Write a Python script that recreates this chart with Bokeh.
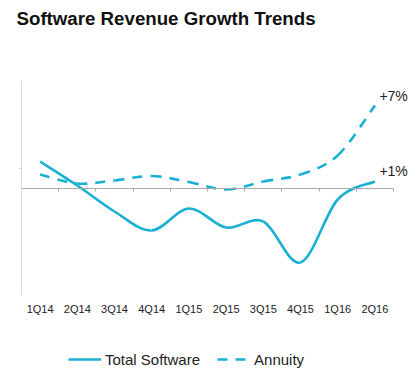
from bokeh.plotting import figure
from bokeh.models import (Range1d, LinearAxis, FixedTicker,
                          Legend, LegendItem, Label, CustomJSTickFormatter)
from bokeh.embed import file_html
from bokeh.resources import INLINE

# ---- data (arbitrary growth units, 0 = flat) ----
quarters = ["1Q14", "2Q14", "3Q14", "4Q14", "1Q15", "2Q15", "3Q15", "4Q15", "1Q16", "2Q16"]
total_software = [27, 3, -23, -42, -20, -39, -33, -74, -11, 7]
annuity = [14, 5, 8, 12.5, 6.5, -1, 7, 14, 33, 83]
end_labels = ["+1%", "+7%"]
y_ticks = [20]
axis_bottom, axis_top = -107, 108
title_text = "Software Revenue Growth Trends"

COLOR = "#1ab0d4"
FONT = "Liberation Sans"
TEXT = "#222222"

W, H = 420, 374
n = len(quarters)
xs = [i + 0.5 for i in range(n)]

# layout (pixels): chart area starts at x=21, one quarter = 37.2 px, zero line at y=188, 1 unit = 1 px
X0, QW, Y0 = 21, 37.2, 188


def smooth_segments(ys):
    """Bezier control points (Catmull-Rom style) through the data points."""
    m = len(ys)
    pts = list(zip(xs, ys))
    seg = dict(x0=[], y0=[], x1=[], y1=[], cx0=[], cy0=[], cx1=[], cy1=[])
    for i in range(m - 1):
        p0 = pts[max(i - 1, 0)]
        p1 = pts[i]
        p2 = pts[i + 1]
        p3 = pts[min(i + 2, m - 1)]
        seg["x0"].append(p1[0]); seg["y0"].append(p1[1])
        seg["x1"].append(p2[0]); seg["y1"].append(p2[1])
        seg["cx0"].append(p1[0] + (p2[0] - p0[0]) / 6)
        seg["cy0"].append(p1[1] + (p2[1] - p0[1]) / 6)
        seg["cx1"].append(p2[0] - (p3[0] - p1[0]) / 6)
        seg["cy1"].append(p2[1] - (p3[1] - p1[1]) / 6)
    return seg


p = figure(width=W, height=H, title=None,
           x_range=Range1d(-X0 / QW, (W - X0) / QW), y_range=Range1d(Y0 - H, Y0),
           output_backend="svg", toolbar_location=None,
           x_axis_location=None, y_axis_location=None,
           min_border_left=0, min_border_right=0, min_border_top=0, min_border_bottom=0)
p.outline_line_color = None
p.xgrid.visible = False
p.ygrid.visible = False

# title
p.add_layout(Label(x=16, y=H - 18, x_units="screen", y_units="screen", text=title_text,
                   text_baseline="alphabetic", text_font=FONT, text_font_style="bold",
                   text_font_size="18.7px", text_color="#111111"))

# left axis (light line, one small tick, no labels)
yax = LinearAxis(fixed_location=0, ticker=FixedTicker(ticks=y_ticks), bounds=(axis_bottom, axis_top),
                 formatter=CustomJSTickFormatter(code="return ''"),
                 axis_line_color="#dcdcdc", major_tick_line_color="#c8c8c8",
                 major_tick_out=2, major_tick_in=0, minor_tick_line_color=None,
                 major_label_standoff=0)
p.add_layout(yax, "left")

# zero line with boundary ticks
zax = LinearAxis(fixed_location=0, bounds=(0, n),
                 ticker=FixedTicker(ticks=list(range(n + 1))),
                 formatter=CustomJSTickFormatter(code="return ''"),
                 axis_line_color="#a9a9a9", major_tick_line_color="#a9a9a9",
                 major_tick_out=3, major_tick_in=0, minor_tick_line_color=None,
                 major_label_standoff=0)
p.add_layout(zax, "below")

# category labels under the chart area
cax = LinearAxis(fixed_location=axis_bottom, ticker=FixedTicker(ticks=xs),
                 formatter=CustomJSTickFormatter(args=dict(labels=quarters),
                                                 code="return labels[Math.floor(tick)] ?? ''"),
                 axis_line_color=None, major_tick_line_color=None,
                 major_tick_out=0, major_tick_in=0, minor_tick_line_color=None,
                 major_label_standoff=7, major_label_text_font=FONT,
                 major_label_text_font_size="11px", major_label_text_color=TEXT)
p.add_layout(cax, "below")

s1 = smooth_segments(total_software)
s2 = smooth_segments(annuity)
r1 = p.bezier(x0="x0", y0="y0", x1="x1", y1="y1", cx0="cx0", cy0="cy0", cx1="cx1", cy1="cy1",
              source=s1, line_color=COLOR, line_width=2.6)
r2 = p.bezier(x0="x0", y0="y0", x1="x1", y1="y1", cx0="cx0", cy0="cy0", cx1="cx1", cy1="cy1",
              source=s2, line_color=COLOR, line_width=2.6, line_dash="10 8")

# end labels
for series, txt, dy in ((total_software, end_labels[0], 11), (annuity, end_labels[1], 9.5)):
    p.add_layout(Label(x=xs[-1], y=series[-1], x_offset=4.5, y_offset=dy, text=txt,
                       text_baseline="middle", text_font=FONT, text_font_size="14px",
                       text_color=TEXT))

legend = Legend(items=[LegendItem(label="Total Software", renderers=[r1]),
                       LegendItem(label="Annuity", renderers=[r2])],
                location=(68, 5), orientation="horizontal",
                border_line_color=None, background_fill_alpha=0,
                padding=0, margin=0, spacing=17, label_standoff=4,
                glyph_width=33, glyph_height=16, label_height=20,
                label_text_font=FONT, label_text_font_size="15px", label_text_color=TEXT)
p.add_layout(legend, "center")

open("out.html", "w").write(file_html(p, INLINE))
